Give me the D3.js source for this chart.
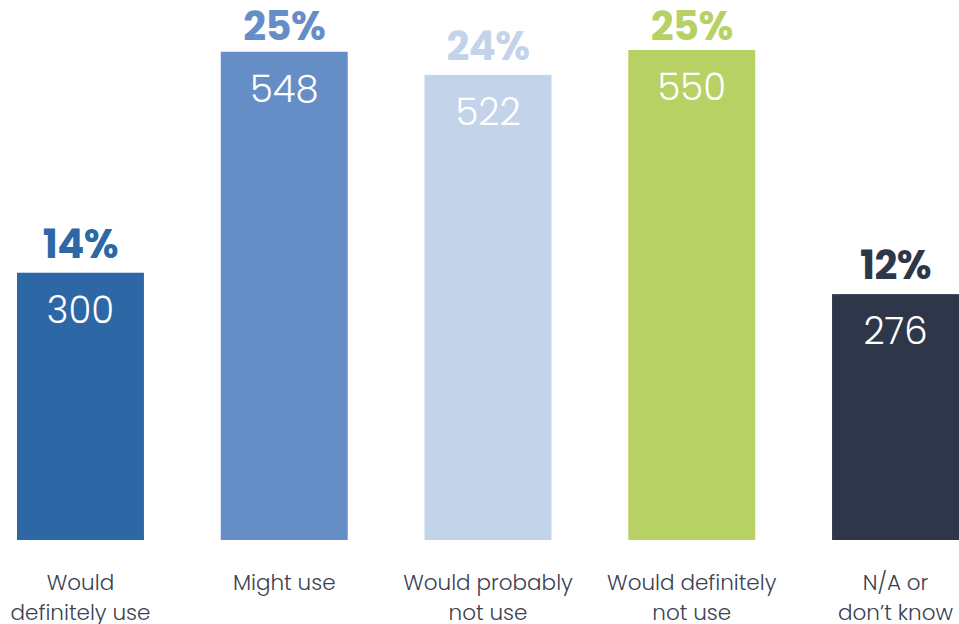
<!DOCTYPE html>
<html>
<head>
<meta charset="utf-8">
<script src="https://cdn.jsdelivr.net/npm/d3@7/dist/d3.min.js"></script>
<style>
  html, body { margin: 0; padding: 0; background: #ffffff; }
  svg { display: block; }
  text { font-family: "Poppins", "Lato", "Open Sans", sans-serif; }
</style>
</head>
<body>
<svg id="chart" width="959" height="624"></svg>
<script>
// Survey responses: count and share per answer
const categories = [
  ["Would", "definitely use"],
  ["Might use"],
  ["Would probably", "not use"],
  ["Would definitely", "not use"],
  ["N/A or", "don\u2019t know"]
];
const counts = [300, 548, 522, 550, 276];
const percents = ["14%", "25%", "24%", "25%", "12%"];
const colors = ["#2d67a6", "#668ec6", "#c3d3ea", "#b8d165", "#2e374a"];

const W = 959, H = 624;
const baseline = 540;
const svg = d3.select("#chart");

const x = d3.scaleBand()
  .domain(d3.range(counts.length))
  .range([17, 959])
  .paddingInner(0.377)
  .paddingOuter(0);

const y = d3.scaleLinear()
  .domain([0, 550])
  .range([baseline, 50]);

const g = svg.append("g");

const bar = g.selectAll("g.bar")
  .data(counts)
  .join("g")
  .attr("class", "bar");

bar.append("rect")
  .attr("x", (d, i) => x(i))
  .attr("y", d => y(d))
  .attr("width", x.bandwidth())
  .attr("height", d => baseline - y(d))
  .attr("fill", (d, i) => colors[i]);

// count inside the bar
bar.append("text")
  .attr("x", (d, i) => x(i) + x.bandwidth() / 2)
  .attr("y", d => y(d) + 50)
  .attr("text-anchor", "middle")
  .attr("fill", "#ffffff")
  .attr("font-size", 37)
  .attr("font-weight", 300)
  .text(d => d);

// share above the bar, kept clear of the top edge
bar.append("text")
  .attr("x", (d, i) => x(i) + x.bandwidth() / 2)
  .attr("y", d => Math.max(y(d) - 15, 40))
  .attr("text-anchor", "middle")
  .attr("fill", (d, i) => colors[i])
  .attr("font-size", 40)
  .attr("font-weight", 700)
  .attr("letter-spacing", -0.5)
  .text((d, i) => percents[i]);

// category labels under the bars
const lab = g.selectAll("text.cat")
  .data(categories)
  .join("text")
  .attr("class", "cat")
  .attr("x", (d, i) => x(i) + x.bandwidth() / 2)
  .attr("y", 590)
  .attr("text-anchor", "middle")
  .attr("fill", "#3a4252")
  .attr("font-size", 21.5)
  .attr("font-weight", 300);

lab.selectAll("tspan")
  .data(d => d)
  .join("tspan")
  .attr("x", function () { return d3.select(this.parentNode).attr("x"); })
  .attr("dy", (d, j) => j === 0 ? 0 : 30)
  .text(d => d);
</script>
</body>
</html>
